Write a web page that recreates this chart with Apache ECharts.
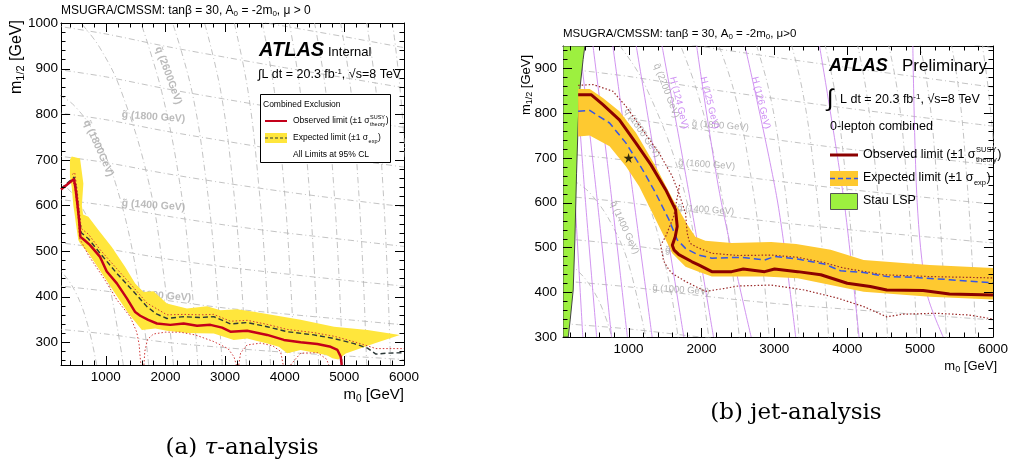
<!DOCTYPE html>
<html>
<head>
<meta charset="utf-8">
<script src="https://cdn.jsdelivr.net/npm/echarts@6/dist/echarts.min.js"></script>
<style>
  html, body { margin: 0; padding: 0; background: #fff; }
  #chart { width: 1011px; height: 463px; }
</style>
</head>
<body>
<div id="chart"></div>
<script>
// ---- axis ranges / ticks ----
const tauRange = { xMin: 250, xMax: 6000, yMin: 250, yMax: 1000 };
const jetRange = { xMin: 100, xMax: 6000, yMin: 300, yMax: 950 };
const xMajorTicks = [1000, 2000, 3000, 4000, 5000, 6000];
const tauYTicks = [300, 400, 500, 600, 700, 800, 900, 1000];
const jetYTicks = [300, 400, 500, 600, 700, 800, 900];

// ---- tau analysis (left) ----
const tauObserved = [[250,635],[468,658],[497,634],[530,597],[553,568],[575,531],[640,524],[737,513],[905,487],
  [1017,455],[1186,429],[1354,396],[1494,366],[1578,358],[1712,349],[1858,341],[2082,338],[2306,341],[2530,336],
  [2755,338],[2950,332],[3090,323],[3370,325],[3707,316],[3986,305],[4267,300],[4547,296],[4771,290],[4884,283],
  [4940,268],[4955,250]];
const tauExpected = [[250,637],[470,662],[500,640],[535,600],[560,570],[590,540],[709,527],[905,495],[1186,451],
  [1466,411],[1690,378],[1850,362],[2026,352],[2306,356],[2587,354],[2811,356],[3090,340],[3370,343],[3707,334],
  [4043,323],[4491,316],[4828,308],[5164,297],[5388,287],[5529,274],[5725,276],[6000,277]];
const tauTheoryUp = [[440,668],[480,672],[515,640],[548,600],[575,565],[600,548],[709,537],[905,503],[1186,461],
  [1466,420],[1690,386],[2026,360],[2306,361],[2587,360],[2811,361],[3090,346],[3370,348],[3707,339],[4043,328],
  [4491,321],[4828,313],[5164,301],[5388,292],[5529,286],[6000,286]];
const tauTheoryDown = [
  [[455,650],[480,640],[515,600],[540,570],[560,528],[709,491],[989,436],[1186,393],[1410,356],[1520,322],[1560,295],[1575,270],[1590,250]],
  [[1640,250],[1655,280],[1700,306],[1800,318],[2000,322],[2250,322],[2500,316],[2800,302],[3050,286],[3150,268],[3190,250]],
  [[3230,250],[3260,276],[3370,294],[3600,298],[3800,292],[3930,280],[3975,250]],
  [[4100,250],[4180,263],[4270,276],[4550,277],[4700,263],[4740,250]]
];
const tauBand = [[430,707],[569,703],[625,648],[600,600],[620,580],[709,575],[877,546],[1101,509],[1326,465],
  [1494,429],[1633,410],[1800,412],[2026,385],[2362,374],[2699,379],[2923,370],[3202,372],[3482,367],[4267,349],
  [4828,334],[5388,327],[5930,316],[5500,297],[5024,275],[4900,262],[4800,265],[4700,272],[4267,283],[4043,276],
  [3900,290],[3707,297],[3370,308],[3146,305],[2811,319],[2362,320],[2026,325],[1830,330],[1606,327],[1381,363],
  [1157,407],[933,451],[709,495],[569,517],[540,524],[500,560],[485,575],[457,600],[430,640],[400,663],[400,700]];

// ---- jet analysis (right) ----
const jetObserved = [[308,841],[490,841],[648,819],[874,785],[1101,733],[1305,685],[1509,629],[1645,584],[1667,547],
  [1640,524],[1600,505],[1625,494],[1690,484],[1871,468],[1961,461],[2142,446],[2414,446],[2573,452],[2867,446],
  [3003,452],[3320,446],[3637,439],[4000,420],[4316,413],[4543,405],[5041,404],[5403,396],[6000,394]];
const jetExpected = [[308,804],[467,806],[739,778],[965,733],[1191,674],[1373,621],[1554,562],[1667,517],[1781,498],
  [1961,483],[2142,476],[2550,478],[2867,472],[3003,480],[3320,474],[3683,463],[3909,448],[4225,444],[4543,435],
  [4950,433],[5403,428],[6000,421]];
const jetTheoryUp = [[308,862],[512,864],[784,849],[965,815],[1191,763],[1418,711],[1599,659],[1690,621],[1781,577],
  [1804,532],[1840,510],[1916,502],[2142,487],[2505,482],[2957,483],[3320,478],[3683,466],[3954,454],[4497,439],
  [5131,435],[6000,432]];
const jetTheoryDown = [[1700,640],[1620,570],[1510,525],[1440,505],[1480,470],[1554,450],[1599,442],[1781,424],
  [2053,402],[2300,408],[2505,414],[2957,416],[3411,405],[3864,387],[4225,368],[4543,345],[4769,351],[5222,353],
  [5675,349],[6000,340]];
const jetBand = [[308,854],[467,854],[648,834],[874,804],[1101,756],[1373,681],[1599,610],[1810,550],[1916,524],
  [2053,515],[2414,510],[2957,512],[3300,508],[3773,495],[4225,472],[5131,461],[6000,454],
  [6000,384],[5131,390],[4225,401],[3773,416],[3320,431],[2867,435],[2142,435],[1961,446],[1781,457],[1599,487],
  [1509,517],[1327,577],[1146,636],[965,681],[739,726],[467,750],[308,748]];
const stauLsp = [[100,950],[400,950],[376,920],[331,853],[308,778],[286,666],[263,517],[240,405],[200,340],[172,300],[100,300]];
const benchmarkStar = [[1000,700]];

// ---- mass contours (same model in both panels) ----
const gluinoLines = [
  [[100,330],[1000,318],[2000,300],[3000,288],[4000,278],[5000,270],[6000,262]],
  [[100,425],[1000,412],[2000,392],[3000,375],[4000,362],[5000,350],[6000,338]],
  [[100,520],[1000,505],[2000,483],[3000,465],[4000,450],[5000,436],[6000,423]],
  [[100,615],[1000,600],[2000,577],[3000,557],[4000,540],[5000,525],[6000,510]],
  [[100,710],[1000,694],[2000,670],[3000,649],[4000,630],[5000,613],[6000,597]],
  [[100,805],[1000,788],[2000,763],[3000,741],[4000,720],[5000,702],[6000,684]],
  [[100,900],[1000,882],[2000,856],[3000,833],[4000,811],[5000,791],[6000,771]],
  [[100,995],[1000,976],[2000,949],[3000,925],[4000,902],[5000,880],[6000,858]],
  [[100,1090],[1000,1070],[2000,1042],[3000,1017],[4000,993],[5000,970],[6000,946]]
];
const squarkLines = [
  [[848,250],[700,337],[500,408],[250,456],[100,469]],
  [[1295,250],[1023,450],[800,542],[500,616],[250,649],[100,658]],
  [[1720,250],[1520,450],[1161,650],[800,760],[500,815],[250,840],[100,847]],
  [[2135,250],[1971,450],[1722,650],[1261,850],[900,946],[583,1000]],
  [[2545,250],[2423,450],[2240,650],[1937,850],[1590,1000]],
  [[2953,250],[2845,450],[2687,650],[2445,850],[2121,1000]],
  [[3358,250],[3265,450],[3130,650],[2928,850],[2657,1000]],
  [[3763,250],[3680,450],[3561,650],[3386,850],[3154,1000]],
  [[4166,250],[4091,450],[3984,650],[3828,850],[3624,1000]],
  [[4569,250],[4500,450],[4403,650],[4261,850],[4078,1000]],
  [[4972,250],[4908,450],[4818,650],[4689,850],[4500,1000]],
  [[5374,250],[5315,450],[5231,650],[5111,850],[4937,1000]],
  [[5776,250],[5721,450],[5643,650],[5532,850],[5375,1000]],
  [[6177,250],[6126,450],[6046,650],[5938,850],[5808,1000]]
];
const higgsLines = [
  [[150,950],[260,620],[372,300]],
  [[250,950],[400,620],[562,300]],
  [[330,950],[560,620],[766,300]],
  [[512,950],[760,620],[983,300]],
  [[784,950],[1060,620],[1323,300]],
  [[1105,950],[1440,620],[1758,300]],
  [[1459,950],[1830,620],[2165,300]],
  [[1934,950],[2250,620],[2682,300]],
  [[2597,950],[3040,606],[3293,300]],
  [[3620,950],[3954,606],[4162,300]],
  [[4900,950],[4960,600],[5090,400],[5317,300]]
];
const tauContourLabels = [
  ['q̃ (2600GeV)', 2050, 885, -70], ['q̃ (1800GeV)', 880, 725, -66],
  ['g̃ (1800 GeV)', 1800, 794, -4], ['g̃ (1400 GeV)', 1800, 600, -4], ['g̃ (1000 GeV)', 1900, 402, -4]
];
const jetContourLabels = [
  ['q̃ (2200 GeV)', 1520, 850, -69], ['q̃ (1800 GeV)', 1187, 756, -56], ['q̃ (1400 GeV)', 942, 544, -65],
  ['g̃ (1800 GeV)', 2260, 772, -4], ['g̃ (1600 GeV)', 2070, 685, -4], ['g̃ (1400 GeV)', 2057, 584, -4],
  ['g̃ (1200 GeV)', 1893, 490, -4], ['g̃ (1000 GeV)', 1717, 405, -4]
];
const higgsLabels = [['H (124 GeV)', 1690, 823, -76], ['H (125 GeV)', 2111, 823, -76], ['H (126 GeV)', 2817, 823, -76]];

const FONT = 'Liberation Sans, Arial, sans-serif';
const SERIF = 'DejaVu Serif, serif';
const chart = echarts.init(document.getElementById('chart'));

function minorTicks(min, max, step, major) {
  const out = [];
  for (let v = Math.ceil(min / step) * step; v <= max; v += step) if (v % major !== 0) out.push(v);
  return out;
}

// frame + tick labels; the tick marks themselves come from tickSeries below
function axesFor(g, r, yTicks, yMargin, fs) {
  const base = { gridIndex: g, type: 'value', splitLine: { show: false }, axisTick: { show: false } };
  const line = { show: true, onZero: false, lineStyle: { color: '#000', width: 1 } };
  const lab = vals => ({ show: true, customValues: vals, color: '#000', fontSize: fs, fontFamily: FONT, formatter: v => String(v) });
  return {
    x: [Object.assign({}, base, { min: r.xMin, max: r.xMax, position: 'bottom', axisLine: line, axisLabel: Object.assign(lab(xMajorTicks), { margin: 5 }) }),
        Object.assign({}, base, { min: r.xMin, max: r.xMax, position: 'top', axisLine: line, axisLabel: { show: false } })],
    y: [Object.assign({}, base, { min: r.yMin, max: r.yMax, position: 'left', axisLine: line, axisLabel: Object.assign(lab(yTicks), { margin: yMargin }) }),
        Object.assign({}, base, { min: r.yMin, max: r.yMax, position: 'right', axisLine: line, axisLabel: { show: false } })]
  };
}

// inward ticks on all four sides, placed through the axis scales
function tickSeries(g, r, yTicks) {
  const xMinor = minorTicks(r.xMin, r.xMax, 200, 1000);
  const yMinor = minorTicks(r.yMin, r.yMax, 20, 100);
  return { type: 'custom', xAxisIndex: g * 2, yAxisIndex: g * 2, clip: false, silent: true, z: 20, data: [[r.xMin, r.yMin]],
    renderItem: (params, api) => {
      const kids = [];
      const seg = (x1, y1, x2, y2) => kids.push({ type: 'line', shape: { x1, y1, x2, y2 }, style: { stroke: '#000', lineWidth: 1 } });
      const doX = (vals, len) => vals.forEach(v => {
        const b = api.coord([v, r.yMin]), t = api.coord([v, r.yMax]);
        const x = Math.round(b[0]) + 0.5;
        seg(x, b[1], x, b[1] - len); seg(x, t[1], x, t[1] + len);
      });
      const doY = (vals, len) => vals.forEach(v => {
        const l = api.coord([r.xMin, v]), rt = api.coord([r.xMax, v]);
        const y = Math.round(l[1]) + 0.5;
        seg(l[0], y, l[0] + len, y); seg(rt[0], y, rt[0] - len, y);
      });
      doX(xMajorTicks, 9); doX(xMinor, 4.5); doY(yTicks, 9); doY(yMinor, 4.5);
      return { type: 'group', children: kids };
    } };
}

function lineSeries(g, pts, color, width, type, z, smooth) {
  return { type: 'line', xAxisIndex: g * 2, yAxisIndex: g * 2, data: pts, symbol: 'none', smooth: smooth || false,
    lineStyle: { color: color, width: width, type: type || 'solid' }, z: z, silent: true, clip: true };
}
function polySeries(g, pts, fill, stroke, z) {
  return { type: 'custom', xAxisIndex: g * 2, yAxisIndex: g * 2, clip: true, z: z, silent: true, data: [pts[0]],
    renderItem: (params, api) => ({ type: 'polygon', shape: { points: pts.map(p => api.coord(p)) },
      style: { fill: fill, stroke: stroke || 'none', lineWidth: stroke ? 1 : 0 } }) };
}
function labelSeries(g, items, color, size, bold) {
  return { type: 'scatter', xAxisIndex: g * 2, yAxisIndex: g * 2, symbolSize: 0, z: 3, silent: true,
    data: items.map(([t, x, y, r]) => ({ value: [x, y], label: { formatter: t, rotate: r } })),
    label: { show: true, position: 'inside', color: color, fontSize: size, fontWeight: bold ? 'bold' : 'normal', fontFamily: FONT } };
}

const a0 = axesFor(0, tauRange, tauYTicks, 3, 13.5);
const a1 = axesFor(1, jetRange, jetYTicks, 6, 13.5);

const contourStyle = ['#b4b4b4', 0.8, [6, 3, 1, 3]];
const series = [];
[0, 1].forEach(g => {
  gluinoLines.forEach(l => series.push(lineSeries(g, l, ...contourStyle, 1, 0.3)));
  squarkLines.forEach(l => series.push(lineSeries(g, l, ...contourStyle, 1, 0.4)));
});
series.push(labelSeries(0, tauContourLabels, '#aaaaaa', 10.5, true));
series.push(labelSeries(1, jetContourLabels, '#a0a0a0', 9.5, false));
higgsLines.forEach(l => series.push(lineSeries(1, l, '#cc88ee', 0.9, 'solid', 1, 0.3)));
series.push(labelSeries(1, higgsLabels, '#c070f0', 9.5, false));

// tau panel
series.push(polySeries(0, tauBand, '#ffe63c', null, 4));
series.push(lineSeries(0, tauTheoryUp, '#d03838', 1, [1.5, 2], 5));
tauTheoryDown.forEach(s => series.push(lineSeries(0, s, '#d03838', 1, [1.5, 2], 5)));
series.push(lineSeries(0, tauExpected, '#2c3838', 1.4, [5, 3], 6));
series.push(lineSeries(0, tauObserved, '#c4001a', 2.5, 'solid', 7));

// jet panel
series.push(polySeries(1, stauLsp, '#9df03f', '#444', 4));
series.push(polySeries(1, jetBand, '#fec930', null, 4));
series.push(lineSeries(1, jetTheoryUp, '#9a2a2a', 1.2, [1.5, 2], 5));
series.push(lineSeries(1, jetTheoryDown, '#9a2a2a', 1.2, [1.5, 2], 5));
series.push(lineSeries(1, jetExpected, '#3656e6', 1.5, [7, 4], 6));
series.push(lineSeries(1, jetObserved, '#8b0000', 3, 'solid', 7));
series.push({ type: 'scatter', xAxisIndex: 2, yAxisIndex: 2, data: benchmarkStar, z: 8, silent: true,
  symbol: 'path://M50,0 L61,35 L98,35 L68,57 L79,91 L50,70 L21,91 L32,57 L2,35 L39,35 Z', symbolSize: 10,
  itemStyle: { color: '#000' } });

series.push(tickSeries(0, tauRange, tauYTicks));
series.push(tickSeries(1, jetRange, jetYTicks));

// ---- text & legends ----
const ctx = document.createElement('canvas').getContext('2d');
function tw(text, size) { ctx.font = size + 'px ' + FONT; return ctx.measureText(text).width; }
function txt(x, y, text, size, extra) {
  return Object.assign({ type: 'text', x: x, y: y, z: 100,
    style: Object.assign({ text: text, fill: '#000', fontSize: size, fontFamily: FONT, textVerticalAlign: 'middle' }, (extra && extra.style) || {}) },
    extra && extra.rotation !== undefined ? { rotation: extra.rotation } : {});
}
const subRich = s => ({ s: { fontSize: s, fontFamily: FONT, padding: [s * 0.8, 0, 0, 0] }, u: { fontSize: s, fontFamily: FONT, padding: [0, 0, s * 0.8, 0] } });
function sigmaText(x, y, head, sup, sub, size, small) {
  const els = [txt(x, y, head, size)];
  const w = tw(head, size);
  if (sup) els.push(txt(x + w + 0.5, y - size * 0.38, sup, small));
  els.push(txt(x + w + 0.5, y + size * 0.38, sub, small));
  const w2 = Math.max(sup ? tw(sup, small) : 0, tw(sub, small));
  els.push(txt(x + w + w2 + 1, y, ')', size));
  return els;
}

const graphics = [
  txt(61, 11, 'MSUGRA/CMSSM: tanβ = 30, A{s|0} = -2m{s|0}, μ > 0', 12, { style: { rich: subRich(8) } }),
  txt(563, 34, 'MSUGRA/CMSSM: tanβ = 30, A{s|0} = -2m{s|0}, μ>0', 11.5, { style: { rich: subRich(8) } }),
  txt(17, 57, 'm{s|1/2} [GeV]', 16, { rotation: Math.PI / 2, style: { textAlign: 'center', rich: subRich(11) } }),
  txt(526, 85, 'm{s|1/2} [GeV]', 13, { rotation: Math.PI / 2, style: { textAlign: 'center', rich: subRich(9) } }),
  txt(404, 395, 'm{s|0} [GeV]', 15, { style: { textAlign: 'right', rich: subRich(10) } }),
  txt(997, 366, 'm{s|0} [GeV]', 13, { style: { textAlign: 'right', rich: subRich(9) } }),
  // left ATLAS block
  txt(259, 50, 'ATLAS', 20, { style: { fontWeight: 'bold', fontStyle: 'italic' } }),
  txt(328, 52, 'Internal', 13),
  txt(258, 75, '∫L dt = 20.3 fb{u|-1}, √s=8 TeV', 12.5, { style: { rich: subRich(8) } }),
  { type: 'rect', z: 99, shape: { x: 260.5, y: 94.5, width: 130, height: 68 }, style: { fill: '#fff', stroke: '#000', lineWidth: 1 } },
  txt(263, 105, 'Combined Exclusion', 8.5),
  { type: 'line', z: 100, shape: { x1: 265, y1: 121, x2: 287, y2: 121 }, style: { stroke: '#c4001a', lineWidth: 2 } },
  ...sigmaText(293, 121, 'Observed limit (±1 σ', 'SUSY', 'theory', 8.5, 5.5),
  { type: 'rect', z: 100, shape: { x: 265, y: 133, width: 22, height: 10 }, style: { fill: '#ffe63c' } },
  { type: 'line', z: 101, shape: { x1: 265, y1: 138, x2: 287, y2: 138 }, style: { stroke: '#2c3838', lineWidth: 1.2, lineDash: [3, 2] } },
  ...sigmaText(293, 138, 'Expected limit (±1 σ', null, 'exp', 8.5, 5.5),
  txt(293, 155, 'All Limits at 95% CL', 8.5),
  // right ATLAS block
  txt(829, 66, 'ATLAS', 18, { style: { fontWeight: 'bold', fontStyle: 'italic' } }),
  txt(902, 66, 'Preliminary', 17),
  txt(827, 99, '∫', 24),
  txt(840, 100, 'L dt = 20.3 fb{u|-1}, √s=8 TeV', 12.5, { style: { rich: subRich(8) } }),
  txt(830, 127, '0-lepton combined', 12.5),
  { type: 'line', z: 100, shape: { x1: 830, y1: 155, x2: 858, y2: 155 }, style: { stroke: '#8b0000', lineWidth: 3 } },
  ...sigmaText(863, 155, 'Observed limit (±1 σ', 'SUSY', 'theory', 12.5, 7.5),
  { type: 'rect', z: 100, shape: { x: 830, y: 171, width: 28, height: 15 }, style: { fill: '#fec930' } },
  { type: 'line', z: 101, shape: { x1: 830, y1: 178.5, x2: 858, y2: 178.5 }, style: { stroke: '#3656e6', lineWidth: 1.5, lineDash: [5, 3] } },
  ...sigmaText(863, 178, 'Expected limit (±1 σ', null, 'exp', 12.5, 7.5),
  { type: 'rect', z: 100, shape: { x: 830.5, y: 193.5, width: 27, height: 16 }, style: { fill: '#9df03f', stroke: '#555', lineWidth: 1 } },
  txt(863, 201, 'Stau LSP', 12.5),
  // captions
  txt(242, 448, '(a) {i|τ}-analysis', 23, { style: { textAlign: 'center', fontFamily: SERIF,
    rich: { i: { fontStyle: 'italic', fontSize: 23, fontFamily: SERIF } } } }),
  txt(796, 413, '(b) jet-analysis', 23, { style: { textAlign: 'center', fontFamily: SERIF } })
];

chart.setOption({
  animation: false,
  backgroundColor: '#fff',
  grid: [
    { left: 61, top: 23, width: 343, height: 342 },
    { left: 563, top: 46, width: 434, height: 291 }
  ],
  xAxis: a0.x.concat(a1.x),
  yAxis: a0.y.concat(a1.y),
  series: series,
  graphic: graphics
});
</script>
</body>
</html>
